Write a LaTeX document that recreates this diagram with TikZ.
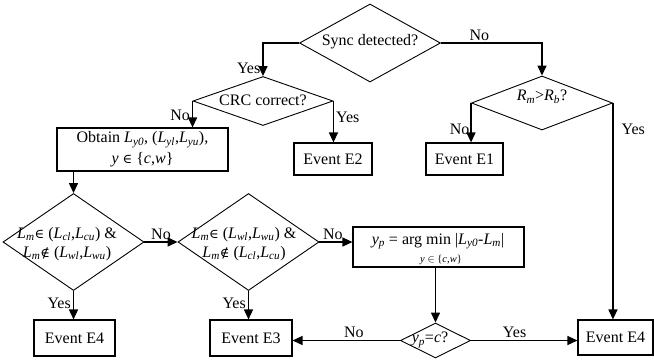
\documentclass[tikz,border=0pt]{standalone}
\usepackage{fontspec}
\setmainfont{Liberation Serif}
\newfontfamily\symf{DejaVu Serif}
\usetikzlibrary{shapes.geometric,arrows.meta}
\newcommand\Lsub[1]{\textit{L}\textsubscript{\textit{#1}}}
\newcommand\Rsub[1]{\textit{R}\textsubscript{\textit{#1}}}
\newcommand\isin{{\symf\fontsize{13}{14}\selectfont ∈}}
\newcommand\notisin{{\symf\fontsize{13}{14}\selectfont ∉}}
\begin{document}
\begin{tikzpicture}[x=1pt,y=-1pt,
  font=\fontsize{16}{18}\selectfont,
  dia/.style={draw, diamond, inner sep=0pt, line width=0.9pt},
  box/.style={draw, rectangle, inner sep=0pt, line width=1.1pt},
  arr/.style={-{Triangle[length=10pt,width=9pt]}, line width=1.4pt},
  lbl/.style={inner sep=2pt},
  small/.style={font=\fontsize{10.5}{12}\selectfont}]
\useasboundingbox (0,0) rectangle (654,360);

% decision nodes
\node[dia, minimum width=141pt, minimum height=78pt] (sync) at (370,43) {};
\node (synct) at (370,42) {Sync detected?};
\node[dia, minimum width=140pt, minimum height=49pt] (crc) at (263,101) {};
\node (crct) at (263,100) {CRC correct?};
\node[dia, minimum width=141pt, minimum height=54pt] (rr) at (542,103) {};
\node (rrt) at (542,97) {\Rsub{m}>\Rsub{b}?};
\node[dia, minimum width=141pt, minimum height=97pt] (L1) at (73.5,242) {};
\node[align=center] (L1t) at (67,244) {\Lsub{m}\isin{} (\Lsub{cl},\Lsub{cu}) \&\\[1pt]\Lsub{m}\notisin{} (\Lsub{wl},\Lsub{wu})};
\node[dia, minimum width=141pt, minimum height=97pt] (L2) at (248.5,242) {};
\node[align=center] (L2t) at (244,244) {\Lsub{m}\isin{} (\Lsub{wl},\Lsub{wu}) \&\\[1pt]\Lsub{m}\notisin{} (\Lsub{cl},\Lsub{cu})};
\node[dia, minimum width=70pt, minimum height=35pt] (yp) at (435.5,340.5) {};
\node (ypt) at (430,340) {\textit{y}\textsubscript{\textit{p}}=\textit{c}?};

% process boxes
\node[box, minimum width=171pt, minimum height=43pt, align=center] (obt) at (142.5,149.5)
  {Obtain \Lsub{y0}, (\Lsub{yl},\Lsub{yu}),\\[3pt] \textit{y} \isin{} \{\textit{c},\textit{w}\}};
\node[box, minimum width=78pt, minimum height=32pt] (e2) at (333,159) {Event E2};
\node[box, minimum width=77pt, minimum height=32pt] (e1) at (464.5,159) {Event E1};
\node[box, minimum width=171pt, minimum height=40pt] (am) at (438.5,247) {};
\node (amt1) at (438,241) {\textit{y}\textsubscript{\textit{p}} = arg min |\Lsub{y0}-\Lsub{m}|};
\node[small] (amt2) at (441,260) {\textit{y} $\in$ \{\textit{c},\textit{w}\}};
\node[box, minimum width=81pt, minimum height=36pt] (e4a) at (74.5,338) {Event E4};
\node[box, minimum width=82pt, minimum height=36pt] (e3) at (251,338) {Event E3};
\node[box, minimum width=75pt, minimum height=35pt] (e4b) at (615.5,337.5) {Event E4};

% connectors
\draw[arr] (sync.west) -| node[lbl, pos=0.88, left] {Yes} (crc.north);
\draw[arr] (sync.east) -| node[lbl, pos=0.19, above] {No} (rr.north);
\draw[arr] (crc.west) -- node[lbl, pos=0.55, left] {No} (crc.west |- obt.north);
\draw[arr] (crc.east) -- node[lbl, pos=0.4, right] {Yes} (crc.east |- e2.north);
\draw[arr] (rr.west) -- node[lbl, pos=0.68, left, inner sep=1pt] {No} (rr.west |- e1.north);
\draw[arr] (rr.east) -- node[lbl, pos=0.12, right, xshift=6pt] {Yes} (rr.east |- e4b.north);
\draw[arr] (obt.south -| L1.north) -- (L1.north);
\draw[arr] (L1.east) -- node[lbl, above] {No} (L2.west);
\draw[arr] (L2.east) -- node[lbl, above, xshift=-3pt] {No} (L2.east -| am.west);
\draw[arr] (L1.south) -- node[lbl, pos=0.43, left] {Yes} (L1.south |- e4a.north);
\draw[arr] (L2.south) -- node[lbl, pos=0.43, left] {Yes} (L2.south |- e3.north);
\draw[arr] (yp.north |- am.south) -- (yp.north);
\draw[arr] (yp.west) -- node[lbl, pos=0.43, above] {No} (yp.west -| e3.east);
\draw[arr] (yp.east) -- node[lbl, pos=0.41, above] {Yes} (yp.east -| e4b.west);
\end{tikzpicture}
\end{document}
